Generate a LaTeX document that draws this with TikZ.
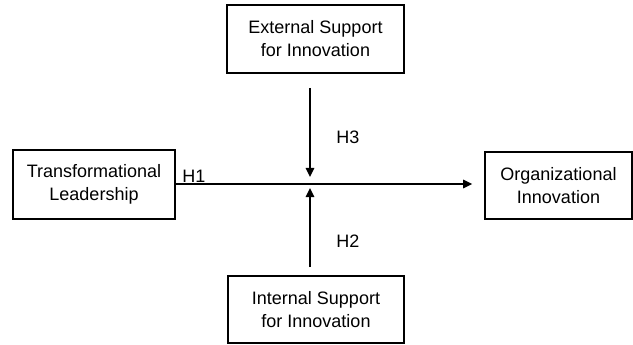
\documentclass[tikz,border=0pt]{standalone}
\usepackage{fontspec}
\setmainfont{Liberation Sans}
\usetikzlibrary{arrows.meta}

\begin{document}
\begin{tikzpicture}[x=1pt,y=-1pt,
    box/.style={draw,line width=1.8pt,inner sep=0pt,align=center,
      font=\fontsize{18}{23}\selectfont},
    hyp/.style={font=\fontsize{18}{23}\selectfont,inner sep=0pt},
    link/.style={line width=1.5pt,-{Triangle[length=9pt,width=8.5pt]}}]
    \useasboundingbox (0,0) rectangle (633,345);
    \node[box,minimum width=162pt,minimum height=69pt] (TL) at (94,184.5) {Transformational\\Leadership};
    \node[box,minimum width=147pt,minimum height=67pt] (OI) at (558.5,185.5) {Organizational\\Innovation};
    \node[box,minimum width=177pt,minimum height=68pt] (ES) at (315.5,39) {External Support\\for Innovation};
    \node[box,minimum width=176pt,minimum height=67pt] (IS) at (316,309.5) {Internal Support\\for Innovation};
    \coordinate (M) at (310,184);
    \draw[link,shorten >=12pt] (TL.east |- M) -- (OI.west |- M);
    \draw[link,shorten <=14pt,shorten >=7pt] (ES.south -| M) -- (M);
    \draw[link,shorten <=8pt,shorten >=4pt] (IS.north -| M) -- (M);
    \node[hyp] (H1) at (194,176) {H1};
    \node[hyp] (H3) at (348,137) {H3};
    \node[hyp] (H2) at (348,241) {H2};
\end{tikzpicture}
\end{document}
